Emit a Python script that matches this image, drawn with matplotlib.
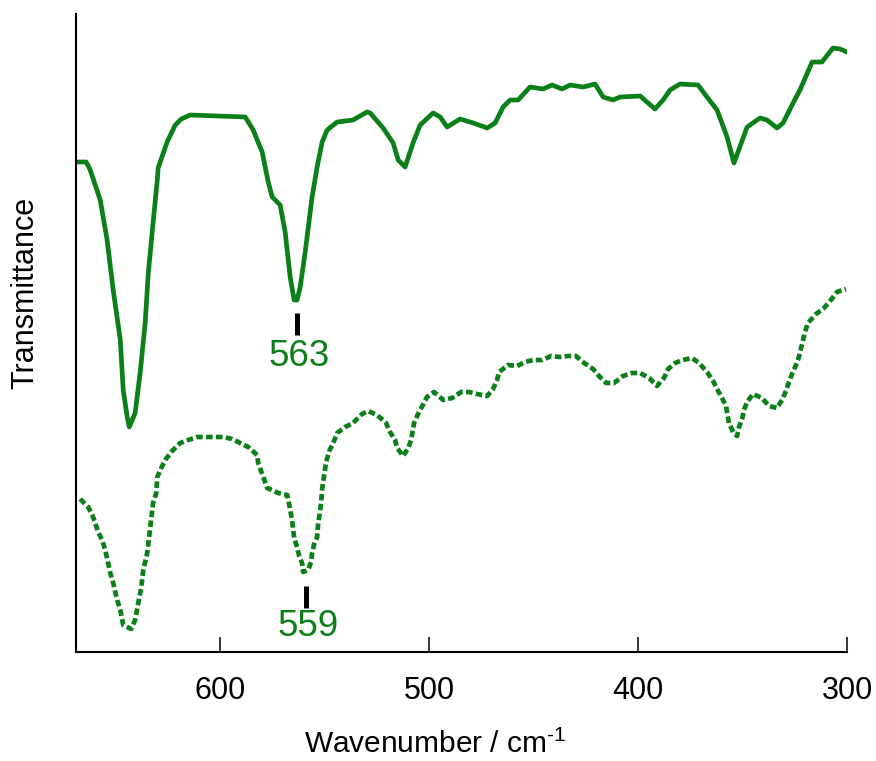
import matplotlib
matplotlib.use("Agg")
import matplotlib.pyplot as plt

plt.rcParams['font.family'] = ['Liberation Sans', 'DejaVu Sans']
plt.rcParams['mathtext.fontset'] = 'custom'
plt.rcParams['mathtext.rm'] = 'Liberation Sans'

green = '#0b7f18'

# upper spectrum (solid), wavenumber / cm-1 and transmittance (a.u.)
wn_a = [668.9, 664.1, 662.2, 657.4, 654.1, 651.2, 647.8, 646.4, 644.5, 643.5,
        640.7, 638.3, 635.9, 634.4, 632.1, 630.1, 629.7, 625.4, 621.5, 618.6,
        614.4, 588.0, 584.2, 580.9, 579.9, 577.0, 575.1, 571.3, 568.9, 566.5,
        564.6, 563.2, 561.7, 559.3, 556.0, 553.6, 551.2, 548.8, 544.0, 536.4,
        529.7, 528.2, 522.0, 517.2, 514.8, 511.5, 507.7, 504.3, 498.1, 494.7,
        491.4, 485.2, 478.9, 472.2, 468.4, 464.6, 461.2, 457.4, 451.7, 445.5,
        441.1, 436.4, 432.5, 426.3, 420.6, 416.7, 412.0, 408.6, 399.0, 391.9,
        388.0, 384.7, 379.9, 371.3, 367.0, 362.2, 357.4, 354.1, 347.8, 341.6,
        338.3, 333.5, 330.6, 325.8, 322.5, 316.7, 312.0, 306.7, 303.3, 300.0]
t_a = [490, 490, 482, 452, 412, 362, 312, 262, 235, 225,
       239, 279, 329, 379, 429, 472, 484, 510, 527, 533,
       537, 535, 522, 505, 500, 470, 455, 447, 420, 375,
       352, 352, 365, 400, 455, 485, 510, 522, 530, 532,
       540, 539, 524, 509, 492, 485, 509, 527, 539, 535,
       525, 533, 529, 524, 529, 545, 552, 552, 565, 563,
       567, 563, 567, 565, 568, 555, 552, 555, 556, 543,
       552, 562, 568, 567, 555, 542, 515, 489, 525, 534,
       532, 524, 529, 549, 562, 590, 590, 604, 603, 600]

# lower spectrum (dotted)
wn_b = [667.0, 663.2, 661.2, 659.8, 658.4, 656.5, 655.0, 652.6, 651.2, 649.3,
        647.8, 646.4, 642.6, 640.7, 639.2, 637.8, 636.8, 634.9, 634.0, 633.0,
        632.1, 630.6, 630.1, 628.2, 626.3, 623.0, 619.1, 615.3, 611.0, 598.6,
        594.3, 590.4, 586.6, 582.3, 581.8, 577.5, 572.2, 567.9, 567.0, 565.6,
        564.6, 563.2, 562.2, 560.8, 560.3, 557.9, 556.5, 556.0, 555.0, 553.6,
        553.1, 552.2, 551.7, 551.2, 549.3, 547.8, 545.9, 544.0, 540.2, 536.4,
        532.1, 529.2, 524.9, 520.6, 518.7, 516.3, 515.3, 512.4, 510.0, 508.6,
        507.2, 505.3, 503.3, 501.0, 497.6, 493.3, 489.0, 484.7, 480.9, 477.0,
        472.2, 469.4, 467.5, 466.5, 462.2, 457.9, 454.1, 450.2, 445.9, 441.6,
        437.8, 433.5, 429.7, 425.8, 421.5, 418.7, 415.3, 411.5, 407.2, 402.9,
        399.0, 394.7, 390.9, 387.6, 385.6, 382.3, 378.5, 374.2, 370.8, 367.0,
        364.1, 362.2, 359.8, 357.9, 356.5, 354.5, 352.6, 351.7, 350.2, 349.3,
        347.8, 345.0, 340.7, 337.3, 333.5, 331.1, 329.2, 327.8, 326.3, 324.4,
        323.0, 321.5, 320.1, 318.7, 314.8, 311.0, 307.7, 304.8, 300.5]
t_b = [153, 145, 137, 129, 120, 112, 102, 79, 69, 52,
       42, 27, 23, 32, 49, 64, 82, 99, 115, 132,
       149, 159, 175, 184, 192, 201, 209, 212, 215, 215,
       213, 209, 205, 197, 189, 164, 159, 157, 148, 132,
       114, 105, 96, 89, 80, 82, 90, 99, 108, 115,
       128, 141, 149, 163, 190, 201, 209, 219, 225, 229,
       238, 241, 237, 229, 220, 212, 204, 196, 204, 212,
       229, 238, 246, 255, 260, 252, 254, 260, 260, 258,
       256, 263, 272, 280, 287, 286, 290, 292, 292, 296,
       295, 296, 296, 289, 283, 276, 269, 269, 276, 279,
       279, 274, 266, 274, 283, 289, 292, 294, 289, 280,
       271, 263, 254, 246, 229, 220, 216, 225, 233, 242,
       250, 258, 254, 246, 244, 252, 261, 270, 278, 287,
       295, 308, 320, 329, 338, 344, 352, 360, 363]

peak_pos = [563, 559]
peak_text = ['563', '559']
mark_top = [339, 66]
mark_bot = [317, 44]
text_y = [295, 25]

fig = plt.figure(figsize=(8.76, 7.61), dpi=100)
ax = fig.add_axes([76/876, 1 - 652/761, (847-76)/876, (652-14)/761])

ax.plot(wn_a, t_a, color=green, lw=3.4, solid_joinstyle='round')
ax.plot(wn_b, t_b, color=green, lw=3.4, linestyle=(0, (1.4, 0.7)))

for x, s, y0, y1, ty in zip(peak_pos, peak_text, mark_top, mark_bot, text_y):
    ax.plot([x, x], [y0, y1], color='black', lw=3.6, solid_capstyle='butt')
    ax.text(x - 1, ty, s, color=green, fontsize=26.5, ha='center', va='center')

ax.set_xlim(669, 300)
ax.set_ylim(0, 638)
ax.set_xticks([600, 500, 400, 300])
ax.set_yticks([])
ax.tick_params(axis='x', direction='in', length=11, width=1.1, labelsize=22, pad=17)
ax.spines['top'].set_visible(False)
ax.spines['right'].set_visible(False)
ax.spines['left'].set_linewidth(1.5)
ax.spines['bottom'].set_linewidth(1.5)

fig.text(435/876, 1 - 744/761, r'Wavenumber / cm$^{\text{-1}}$',
         fontsize=21.5, ha='center', va='center')
fig.text(25/876, 1 - 293/761, 'Transmittance', fontsize=22, rotation=90,
         ha='center', va='center')

fig.savefig('out.png', dpi=100)
